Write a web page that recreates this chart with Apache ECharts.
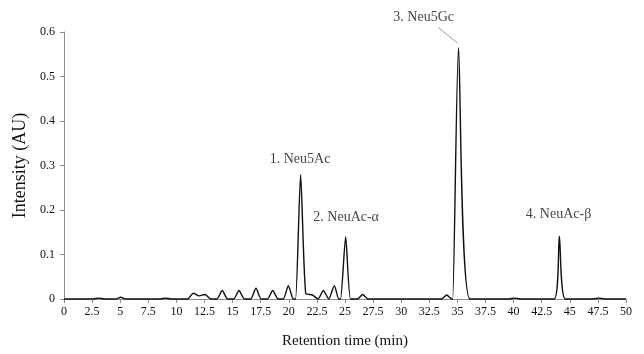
<!DOCTYPE html>
<html>
<head>
<meta charset="utf-8">
<script src="https://cdn.jsdelivr.net/npm/echarts@6/dist/echarts.min.js"></script>
<style>
html,body{margin:0;padding:0;background:#fff;}
#chart{width:644px;height:354px;}
</style>
</head>
<body>
<div id="chart"></div>
<script>
// Retention time (min) and intensity (AU)
var retentionTime = [0, 2.6, 3.1, 3.6, 4.6, 5.05, 5.5, 8.6, 9.05, 9.5,
  11.0, 11.5, 12.0, 12.55, 13.05, 13.6, 14.08, 14.56, 15.1, 15.57, 16.05,
  16.6, 17.08, 17.55, 18.1, 18.57, 19.05, 19.5, 19.96, 20.4, 20.6, 21.05,
  21.5, 22.1, 22.6, 23.07, 23.55, 24.05, 24.45, 24.6, 25.06, 25.5, 26.1,
  26.57, 27.05, 33.6, 34.05, 34.5, 34.58, 35.1, 36.12, 39.6, 40.1, 40.6,
  43.6, 44.07, 44.6, 47.1, 47.6, 48.1, 50];
var intensity = [0, 0, 0.002, 0, 0, 0.004, 0, 0, 0.002, 0,
  0, 0.013, 0.007, 0.01, 0, 0, 0.019, 0, 0, 0.019, 0,
  0, 0.024, 0, 0, 0.019, 0, 0, 0.03, 0, 0, 0.28,
  0.013, 0.009, 0, 0.019, 0, 0.03, 0, 0, 0.14, 0, 0,
  0.01, 0, 0, 0.009, 0, 0, 0.565, 0, 0, 0.002, 0,
  0, 0.141, 0, 0, 0.002, 0, 0];

// Peak annotations (text and anchor position in data units)
var peakNames = ['1. Neu5Ac', '2. NeuAc-\u03b1', '3. Neu5Gc', '4. NeuAc-\u03b2'];
var peakLabelX = [21.0, 25.1, 32.0, 44.0];
var peakLabelY = [0.313, 0.184, 0.634, 0.19];
// leader line for peak 3
var leaderX = [33.3, 35.0];
var leaderY = [0.61, 0.575];

var xTicks = {min: 0, max: 50, interval: 2.5};
var yTicks = {min: 0, max: 0.6, interval: 0.1};

var lineData = retentionTime.map(function (t, i) { return [t, intensity[i]]; });
var labelData = peakNames.map(function (n, i) { return {name: n, value: [peakLabelX[i], peakLabelY[i]]}; });
var leaderData = leaderX.map(function (x, i) { return [x, leaderY[i]]; });

var FONT = 'Liberation Serif';
var chart = echarts.init(document.getElementById('chart'), null, {renderer: 'canvas'});
chart.setOption({
  animation: false,
  backgroundColor: '#fff',
  grid: {left: 64, right: 18, top: 32, bottom: 54},
  xAxis: {
    type: 'value', min: xTicks.min, max: xTicks.max, interval: xTicks.interval,
    name: 'Retention time (min)', nameLocation: 'middle', nameGap: 35,
    nameTextStyle: {fontFamily: FONT, fontSize: 15, color: '#111'},
    axisLine: {show: true, lineStyle: {color: '#8c8c8c', width: 1}},
    axisTick: {show: true, length: 4, lineStyle: {color: '#8c8c8c'}},
    axisLabel: {fontFamily: FONT, fontSize: 12, color: '#111', margin: 7},
    splitLine: {show: false}
  },
  yAxis: {
    type: 'value', min: yTicks.min, max: yTicks.max, interval: yTicks.interval,
    name: 'Intensity (AU)', nameLocation: 'middle', nameGap: 30,
    nameTextStyle: {fontFamily: FONT, fontSize: 18, color: '#111'},
    axisLine: {show: true, lineStyle: {color: '#8c8c8c', width: 1}},
    axisTick: {show: true, length: 4, lineStyle: {color: '#8c8c8c'}},
    axisLabel: {fontFamily: FONT, fontSize: 12, color: '#111', margin: 9},
    splitLine: {show: false}
  },
  series: [
    {
      type: 'line', data: lineData, smooth: 0.22, symbol: 'none',
      lineStyle: {color: '#111', width: 1.4}, clip: false
    },
    {
      type: 'line', data: leaderData, symbol: 'none', clip: false,
      lineStyle: {color: '#9a9a9a', width: 1}
    },
    {
      type: 'scatter', data: labelData, symbolSize: 0, clip: false,
      label: {show: true, position: 'inside', formatter: '{b}',
        fontFamily: FONT, fontSize: 14, color: '#111'}
    }
  ]
});
</script>
</body>
</html>
